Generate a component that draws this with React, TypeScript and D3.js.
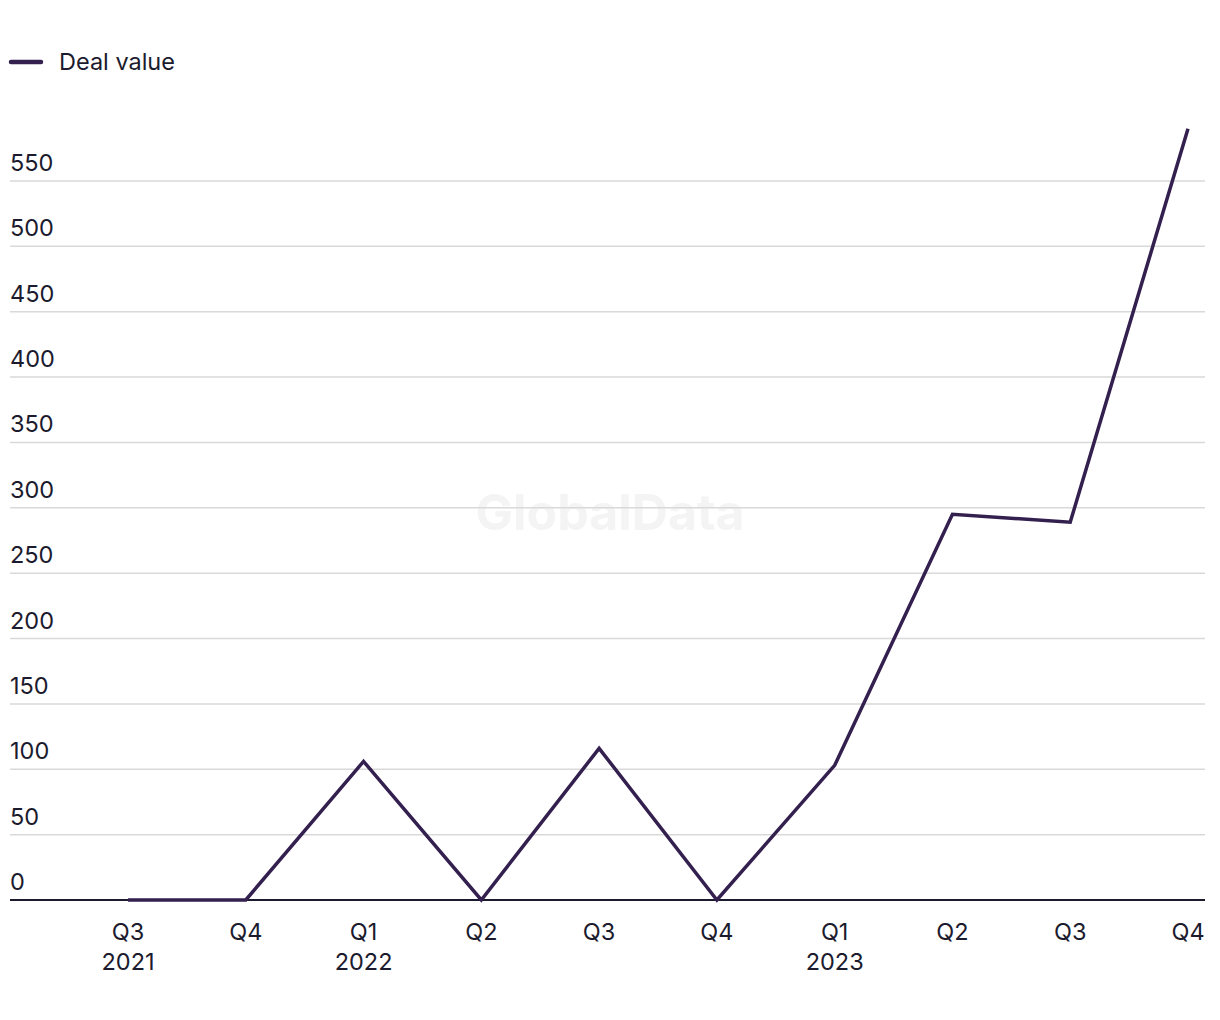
import React from "react";
import * as d3 from "d3";

const quarters = ["Q3", "Q4", "Q1", "Q2", "Q3", "Q4", "Q1", "Q2", "Q3", "Q4"];
const years = ["2021", "", "2022", "", "", "", "2023", "", "", ""];
const dealValue = [0, 0, 106, 0, 116, 0, 103, 295, 289, 590];
const yTicks = [0, 50, 100, 150, 200, 250, 300, 350, 400, 450, 500, 550];
const seriesName = "Deal value";

const W = 1220;
const H = 1020;
const FONT = "Inter, 'Noto Sans', sans-serif";
const LINE = "#33204f";
const TEXT = "#1c1b2e";
const FS = 23.5;

export default function App() {
  const ids = quarters.map((_, i) => String(i));
  const x = d3.scalePoint<string>().domain(ids).range([128, 1188]);
  const y = d3.scaleLinear().domain([0, 550]).range([900, 181]);
  const line = d3
    .line<number>()
    .x((_, i) => x(String(i)) as number)
    .y((d) => y(d));

  return (
    <svg
      width={W}
      height={H}
      style={{ position: "absolute", left: 0, top: 0, background: "#fff" }}
      fontFamily={FONT}
    >
      <rect width={W} height={H} fill="#fff" />
      {/* legend */}
      <line x1={11} x2={41} y1={62} y2={62} stroke={LINE} strokeWidth={4.5} strokeLinecap="round" />
      <text x={59} y={62} dy="0.35em" fontSize={FS} fill={TEXT}>
        {seriesName}
      </text>

      {/* watermark */}
      <text
        x={610}
        y={512}
        dy="0.35em"
        textAnchor="middle"
        fontSize={50}
        fontWeight={700}
        fill="#f4f4f4"
      >
        GlobalData
      </text>

      {/* grid */}
      {yTicks.map((t) => (
        <g key={t}>
          {t !== 0 && (
            <line x1={10} x2={1205} y1={y(t)} y2={y(t)} stroke="#d9d9d9" strokeWidth={1.5} />
          )}
          <text x={10} y={y(t) - 10} fontSize={FS} fill={TEXT}>
            {t}
          </text>
        </g>
      ))}

      {/* baseline */}
      <line x1={10} x2={1205} y1={y(0)} y2={y(0)} stroke={TEXT} strokeWidth={2} />

      {/* x labels */}
      {quarters.map((q, i) => (
        <g key={i}>
          <text x={x(String(i))} y={940} textAnchor="middle" fontSize={FS} fill={TEXT}>
            {q}
          </text>
          {years[i] && (
            <text x={x(String(i))} y={970} textAnchor="middle" fontSize={FS} fill={TEXT}>
              {years[i]}
            </text>
          )}
        </g>
      ))}

      {/* line */}
      <path d={line(dealValue) || ""} fill="none" stroke={LINE} strokeWidth={3.5} strokeLinejoin="miter" />
    </svg>
  );
}
